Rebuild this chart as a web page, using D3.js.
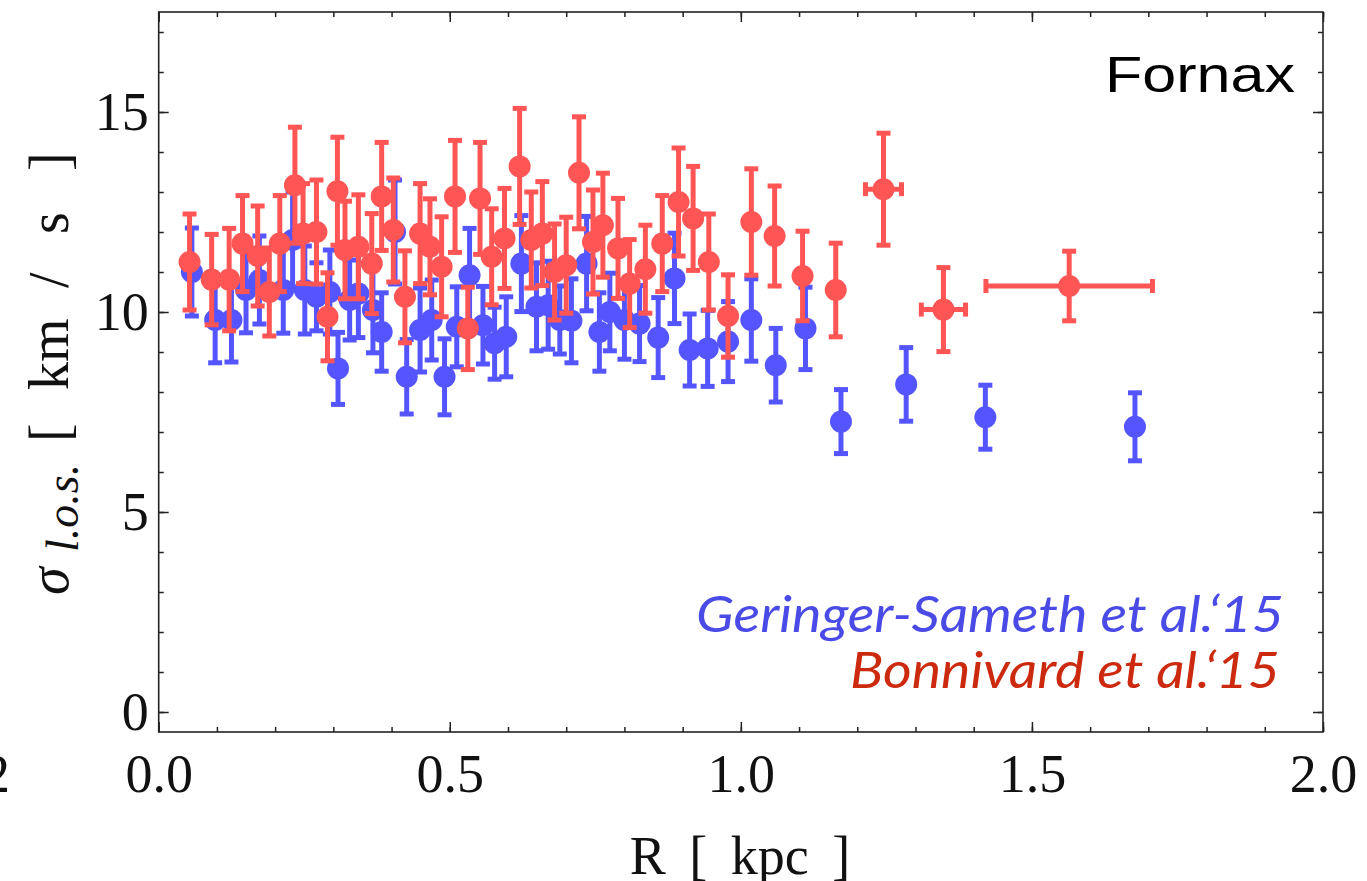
<!DOCTYPE html>
<html>
<head>
<meta charset="utf-8">
<script src="https://cdn.jsdelivr.net/npm/d3@7"></script>
<style>
  body { margin: 0; background: #fff; overflow: hidden; }
  svg { display: block; }
</style>
</head>
<body>
<script>
// Fornax velocity dispersion profile, two datasets

// Geringer-Sameth et al. '15 (blue)
var blueR = [0.057,0.097,0.125,0.150,0.173,0.214,0.230,0.251,0.271,0.294,
  0.308,0.328,0.343,0.368,0.383,0.406,0.426,0.449,0.469,0.491,
  0.512,0.534,0.557,0.577,0.597,0.623,0.649,0.669,0.689,0.709,
  0.735,0.757,0.775,0.800,0.826,0.858,0.886,0.912,0.943,0.978,
  1.018,1.060,1.111,1.172,1.284,1.420,1.677];
var blueSigma = [11.0,9.8,9.8,10.55,10.8,10.55,11.8,10.55,10.38,10.5,
  8.59,10.3,10.46,10.05,9.5,12.0,8.38,9.55,9.8,8.38,
  9.63,10.92,9.67,9.22,9.38,11.21,10.13,10.17,9.8,9.78,
  11.21,9.5,10.0,9.8,9.71,9.36,10.84,9.05,9.09,9.26,
  9.8,8.67,9.59,7.26,8.19,7.37,7.13];
var blueErr = [1.1,1.07,1.05,1.07,1.1,1.08,1.2,1.1,0.85,1.05,
  0.9,1.0,1.1,1.07,0.98,1.3,0.93,1.05,1.0,0.95,
  1.0,1.17,0.97,0.9,1.0,1.2,1.1,1.1,0.85,1.05,
  1.18,0.98,0.97,0.98,0.95,1.0,1.13,0.9,0.95,1.0,
  1.03,0.92,1.03,0.8,0.92,0.8,0.85];

// Bonnivard et al. '15 (red)
var redR = [0.053,0.091,0.121,0.144,0.170,0.190,0.208,0.234,0.248,0.271,
  0.290,0.307,0.320,0.343,0.366,0.383,0.403,0.423,0.449,0.466,
  0.486,0.509,0.531,0.552,0.572,0.594,0.620,0.640,0.659,0.680,
  0.700,0.722,0.746,0.763,0.789,0.809,0.836,0.865,0.893,0.918,
  0.945,0.978,1.018,1.058,1.106,1.163,1.245,1.348,1.564];
var redSigma = [11.25,10.81,10.81,11.71,11.40,10.50,11.71,13.17,11.96,12.00,
  9.88,13.02,11.55,11.63,11.21,12.89,12.05,10.38,11.96,11.63,
  11.13,12.89,9.59,12.84,11.38,11.84,13.64,11.80,11.96,11.00,
  11.17,13.48,11.75,12.17,11.59,10.71,11.07,11.71,12.75,12.34,
  11.25,9.90,12.25,11.90,10.90,10.55,13.07,10.06,10.65];
var redErr = [1.2,1.13,1.28,1.2,1.25,1.1,1.2,1.45,1.25,1.3,
  1.1,1.35,1.22,1.3,1.25,1.35,1.3,1.15,1.25,1.2,
  1.25,1.4,1.03,1.4,1.2,1.25,1.45,1.2,1.3,1.2,
  1.2,1.4,1.3,1.3,1.25,1.1,1.1,1.2,1.35,1.3,
  1.2,1.03,1.33,1.25,1.12,1.17,1.4,1.05,0.87];
var redXErr = [0,0,0,0,0,0,0,0,0,0, 0,0,0,0,0,0,0,0,0,0,
  0,0,0,0,0,0,0,0,0,0, 0,0,0,0,0,0,0,0,0,0,
  0,0,0,0,0,0,0.031,0.038,0.143];

var xMajor = [0, 0.5, 1.0, 1.5, 2.0];
var yMajor = [0, 5, 10, 15];

var svgWidth = 1367, svgHeight = 881;
var plotLeft = 158.7, plotRight = 1323, plotTop = 12, plotBottom = 732;

var svg = d3.select("body").append("svg")
  .attr("width", svgWidth)
  .attr("height", svgHeight);

var x = d3.scaleLinear().domain([0, 2]).range([plotLeft, plotRight]);
var y = d3.scaleLinear().domain([-0.5, 17.5]).range([plotBottom, plotTop]);

var serif = "'Liberation Serif', 'Times New Roman', serif";

// axes: ticks point inward
var xMinor = d3.range(0, 2.0001, 0.1).map(d => +d.toFixed(1));
var yMinor = d3.range(0, 17.5, 1);

function styleAxis(g) {
  g.select(".domain").remove();
  g.selectAll("line").attr("stroke", "#222").attr("stroke-width", 1.5);
  g.selectAll("text").attr("font-family", serif).attr("font-size", 54).attr("fill", "#111");
}

svg.append("g").attr("transform", `translate(0,${plotBottom})`)
  .call(d3.axisBottom(x).tickValues(xMinor).tickSize(-5).tickFormat("")).call(styleAxis);
svg.append("g").attr("transform", `translate(0,${plotBottom})`)
  .call(d3.axisBottom(x).tickValues(xMajor).tickSize(-10).tickPadding(22).tickFormat(d3.format(".1f"))).call(styleAxis);
svg.append("g").attr("transform", `translate(0,${plotTop})`)
  .call(d3.axisTop(x).tickValues(xMinor).tickSize(-5).tickFormat("")).call(styleAxis);
svg.append("g").attr("transform", `translate(0,${plotTop})`)
  .call(d3.axisTop(x).tickValues(xMajor).tickSize(-10).tickFormat("")).call(styleAxis);

svg.append("g").attr("transform", `translate(${plotLeft},0)`)
  .call(d3.axisLeft(y).tickValues(yMinor).tickSize(-5).tickFormat("")).call(styleAxis);
svg.append("g").attr("transform", `translate(${plotLeft},0)`)
  .call(d3.axisLeft(y).tickValues(yMajor).tickSize(-10).tickPadding(10).tickFormat(d3.format("d"))).call(styleAxis);
svg.append("g").attr("transform", `translate(${plotRight},0)`)
  .call(d3.axisRight(y).tickValues(yMinor).tickSize(-5).tickFormat("")).call(styleAxis);
svg.append("g").attr("transform", `translate(${plotRight},0)`)
  .call(d3.axisRight(y).tickValues(yMajor).tickSize(-10).tickFormat("")).call(styleAxis);

// frame
svg.append("rect")
  .attr("x", plotLeft).attr("y", plotTop)
  .attr("width", plotRight - plotLeft).attr("height", plotBottom - plotTop)
  .attr("fill", "none").attr("stroke", "#222").attr("stroke-width", 1.6);

// data
var blueData = blueR.map((r, i) => ({r: r, s: blueSigma[i], e: blueErr[i], xe: 0}));
var redData = redR.map((r, i) => ({r: r, s: redSigma[i], e: redErr[i], xe: redXErr[i]}));

function drawSeries(data, color) {
  var g = svg.append("g");
  var capW = 7;
  data.forEach(function(d) {
    var cx = x(d.r), cy = y(d.s);
    var y1 = y(d.s + d.e), y2 = y(d.s - d.e);
    g.append("line").attr("x1", cx).attr("x2", cx).attr("y1", y1).attr("y2", y2)
      .attr("stroke", color).attr("stroke-width", 5);
    [y1, y2].forEach(function(yy) {
      g.append("line").attr("x1", cx - capW).attr("x2", cx + capW).attr("y1", yy).attr("y2", yy)
        .attr("stroke", color).attr("stroke-width", 5);
    });
    if (d.xe > 0) {
      var x1 = x(d.r - d.xe), x2 = x(d.r + d.xe);
      g.append("line").attr("x1", x1).attr("x2", x2).attr("y1", cy).attr("y2", cy)
        .attr("stroke", color).attr("stroke-width", 5);
      [x1, x2].forEach(function(xx) {
        g.append("line").attr("x1", xx).attr("x2", xx).attr("y1", cy - capW).attr("y2", cy + capW)
          .attr("stroke", color).attr("stroke-width", 5);
      });
    }
    g.append("circle").attr("cx", cx).attr("cy", cy).attr("r", 11).attr("fill", color);
  });
}

drawSeries(blueData, "#5555ff");
drawSeries(redData, "#ff5555");

// labels
svg.append("text")
  .attr("x", 1295).attr("y", 92)
  .attr("text-anchor", "end")
  .attr("font-family", "'Liberation Sans', Arial, sans-serif")
  .attr("font-size", 50)
  .attr("fill", "#000")
  .attr("textLength", 190).attr("lengthAdjust", "spacingAndGlyphs")
  .text("Fornax");

svg.append("text")
  .attr("x", 1284).attr("y", 632)
  .attr("text-anchor", "end")
  .attr("font-family", "Lato, 'Open Sans', sans-serif")
  .attr("font-style", "italic")
  .attr("font-size", 50)
  .attr("fill", "#4a4ae6")
  .attr("textLength", 588).attr("lengthAdjust", "spacingAndGlyphs")
  .text("Geringer-Sameth et al.‘15");

svg.append("text")
  .attr("x", 1280).attr("y", 688)
  .attr("text-anchor", "end")
  .attr("font-family", "Lato, 'Open Sans', sans-serif")
  .attr("font-style", "italic")
  .attr("font-size", 50)
  .attr("fill", "#cc2a0e")
  .attr("textLength", 430).attr("lengthAdjust", "spacingAndGlyphs")
  .text("Bonnivard et al.‘15");

// x axis title (wide spaces like the original)
svg.append("text")
  .attr("x", 740).attr("y", 874)
  .attr("text-anchor", "middle")
  .attr("font-family", serif)
  .attr("font-size", 54)
  .attr("fill", "#111")
  .attr("word-spacing", 10)
  .text("R [ kpc ]");

// y axis title, pieces placed along the rotated baseline
var yTitle = svg.append("text")
  .attr("transform", "translate(68,0) rotate(-90)")
  .attr("font-family", serif)
  .attr("font-size", 56)
  .attr("fill", "#111");
yTitle.append("tspan").attr("x", -595).attr("font-style", "italic").text("σ");
yTitle.append("tspan").attr("x", -552).attr("dy", 10).attr("font-style", "italic")
  .attr("font-size", 46).text("l.o.s.");
yTitle.append("tspan").attr("x", -442).attr("dy", -10).text("[");
yTitle.append("tspan").attr("x", -390).text("km");
yTitle.append("tspan").attr("x", -288).text("/");
yTitle.append("tspan").attr("x", -234).text("s");
yTitle.append("tspan").attr("x", -171).text("]");

// clipped label from neighbouring panel
svg.append("text")
  .attr("x", 10).attr("y", 792)
  .attr("text-anchor", "end")
  .attr("font-family", serif)
  .attr("font-size", 54)
  .attr("fill", "#111")
  .text("2");
</script>
</body>
</html>
